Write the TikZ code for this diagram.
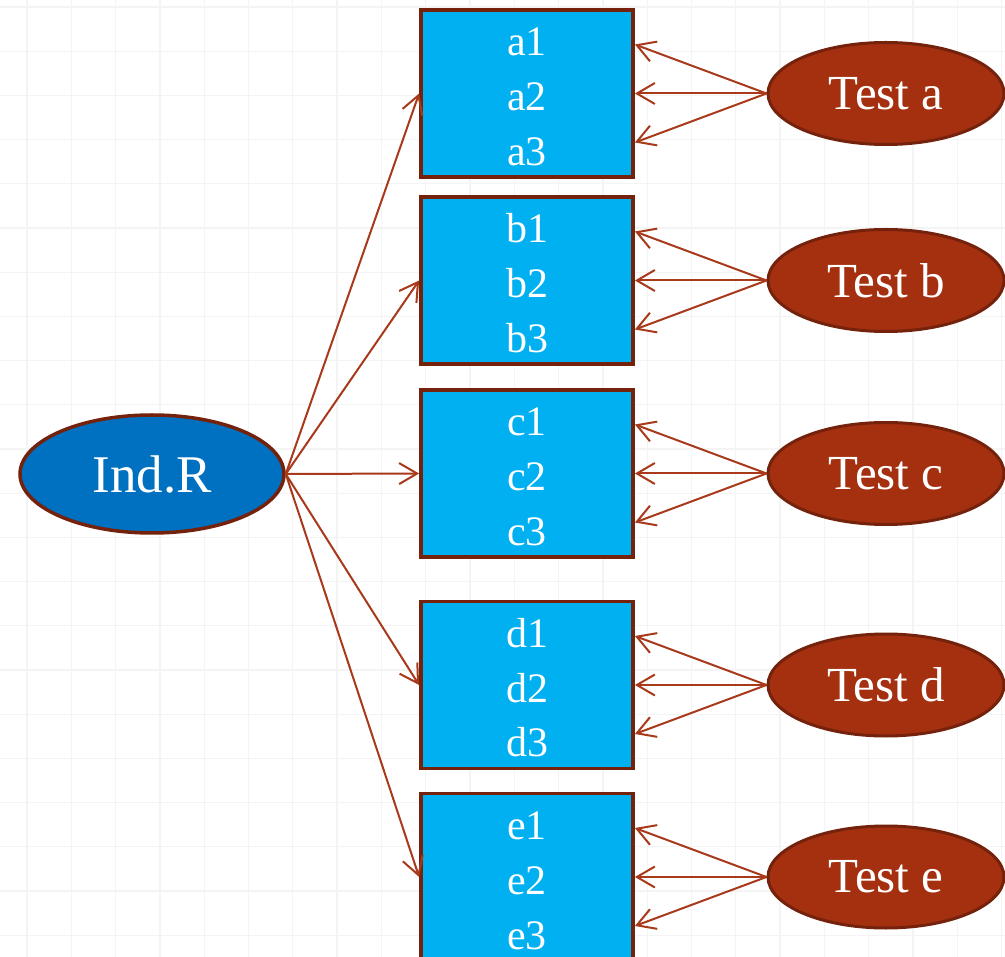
\documentclass[tikz,border=0pt]{standalone}
\usepackage{fontspec}
\setmainfont{Liberation Serif}
\usetikzlibrary{arrows.meta,shapes.geometric}
\definecolor{boxfill}{HTML}{00B0F0}
\definecolor{rootfill}{HTML}{0070C0}
\definecolor{testfill}{HTML}{A53010}
\definecolor{edge}{HTML}{74220C}
\definecolor{link}{HTML}{A8391A}
\definecolor{gridline}{HTML}{F4F4F4}
% three stacked item labels, 55pt apart, set slightly below the box centre
\newcommand\itemstack[1]{\raisebox{-6pt}[\height][\depth]{\begin{tabular}{@{}c@{}}#1\end{tabular}}}
\tikzset{
  itembox/.style={rectangle, draw=edge, line width=3.8pt, fill=boxfill, text=white,
    minimum width=212pt, minimum height=167pt, inner sep=0pt,
    font=\fontsize{42}{55}\selectfont},
  testnode/.style={ellipse, draw=edge, line width=3pt, fill=testfill, text=white,
    minimum width=236pt, minimum height=102pt, inner sep=0pt,
    font=\fontsize{49}{55}\selectfont},
  rootnode/.style={ellipse, draw=edge, line width=3.5pt, fill=rootfill, text=white,
    minimum width=264pt, minimum height=118pt, inner sep=0pt,
    font=\fontsize{53}{60}\selectfont},
  link/.style={draw=link, line width=2pt,
    -{Straight Barb[length=18pt,width=21pt,line width=2pt]}},
}
\begin{document}
\begin{tikzpicture}[x=1pt,y=-1pt]
  % canvas and faint background grid
  \fill[white] (0,0) rectangle (1005,957);
  \useasboundingbox (0,0) rectangle (1005,957);
  \foreach \i in {0,...,22} {
    \draw[gridline, line width=1.3pt] ({27+44.3*\i},0) -- ({27+44.3*\i},957);
  }
  \foreach \j in {0,...,21} {
    \draw[gridline, line width=1.3pt] (0,{7+44.2*\j}) -- (1005,{7+44.2*\j});
  }

  % root
  \node[rootnode] (ind) at (152,474) {Ind.R};

  % item boxes
  \node[itembox] (a) at (527,93.5) {\itemstack{a1\\a2\\a3}};
  \node[itembox] (b) at (527,280.5) {\itemstack{b1\\b2\\b3}};
  \node[itembox] (c) at (527,473.5) {\itemstack{c1\\c2\\c3}};
  \node[itembox] (d) at (527,685) {\itemstack{d1\\d2\\d3}};
  \node[itembox] (e) at (527,877) {\itemstack{e1\\e2\\e3}};

  % tests
  \node[testnode] (ta) at (886,93.5) {Test a};
  \node[testnode] (tb) at (886,280.5) {Test b};
  \node[testnode] (tc) at (886,473.5) {Test c};
  \node[testnode] (td) at (886,685) {Test d};
  \node[testnode] (te) at (886,877) {Test e};

  % root to every box
  \foreach \n in {a,b,c,d,e} {
    \draw[link] (ind.east) -- (\n.west);
  }

  % each test to the three items of its box
  \foreach \t/\n in {ta/a,tb/b,tc/c,td/d,te/e} {
    \draw[link] (\t.west) -- ([yshift=49pt]\n.east);
    \draw[link] (\t.west) -- (\n.east);
    \draw[link] (\t.west) -- ([yshift=-49pt]\n.east);
  }
\end{tikzpicture}
\end{document}
